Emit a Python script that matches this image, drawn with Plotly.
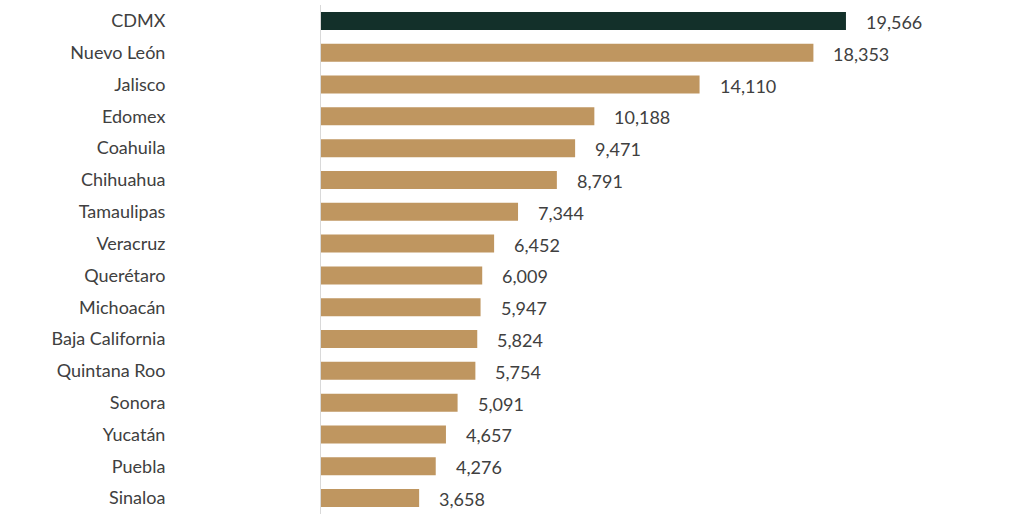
import plotly.graph_objects as go

states = ["CDMX", "Nuevo León", "Jalisco", "Edomex", "Coahuila", "Chihuahua",
          "Tamaulipas", "Veracruz", "Querétaro", "Michoacán", "Baja California",
          "Quintana Roo", "Sonora", "Yucatán", "Puebla", "Sinaloa"]
values = [19566, 18353, 14110, 10188, 9471, 8791, 7344, 6452, 6009, 5947,
          5824, 5754, 5091, 4657, 4276, 3658]
highlight = "CDMX"

DARK = "#13302a"
TAN = "#bf9660"
TXT = "#404040"
FONT = "Lato"

colors = [DARK if s == highlight else TAN for s in states]

fig = go.Figure(go.Bar(
    x=values, y=states, orientation="h",
    marker=dict(color=colors, line=dict(width=0)),
    hoverinfo="skip",
))

for s, v in zip(states, values):
    fig.add_annotation(x=v, y=s, text=f"{v:,}", showarrow=False,
                       xanchor="left", xshift=18, yshift=-1,
                       font=dict(family=FONT, size=18, color=TXT))

fig.update_layout(
    width=1036, height=517,
    margin=dict(l=321, r=15, t=5, b=3, autoexpand=False),
    paper_bgcolor="white", plot_bgcolor="white",
    bargap=0.434,
    showlegend=False,
    font=dict(family=FONT, size=18, color=TXT),
)
fig.update_xaxes(range=[0, 26090], visible=False, showgrid=False, zeroline=False,
                 automargin=False)
fig.update_yaxes(autorange="reversed", showgrid=False, zeroline=False,
                 showline=True, linecolor="#d9d9d9", linewidth=1,
                 ticks="", ticklabelstandoff=151, automargin=False,
                 tickfont=dict(family=FONT, size=18, color=TXT))

fig.write_html("out.html",
               config={"displayModeBar": False, "staticPlot": True},
               post_script="document.body.style.margin='0';document.body.style.overflow='hidden';")
